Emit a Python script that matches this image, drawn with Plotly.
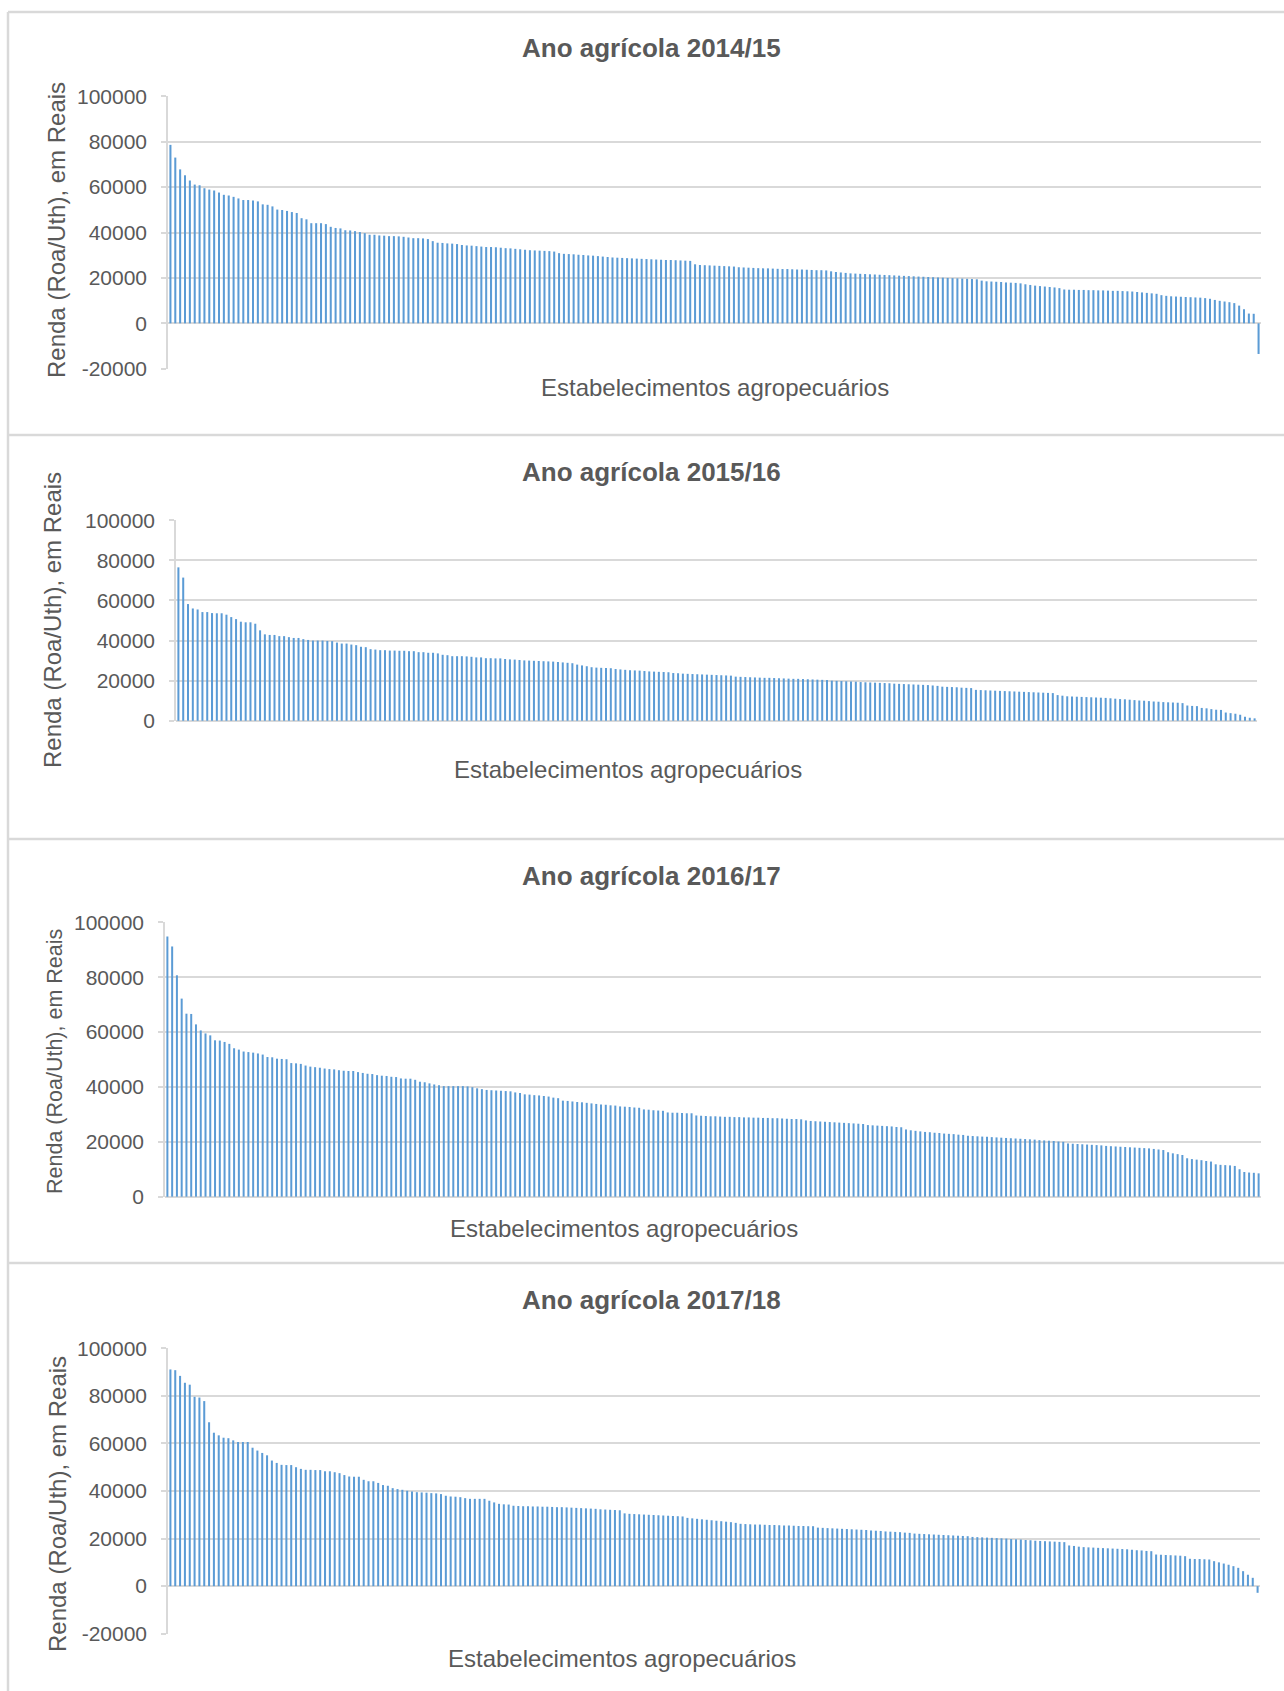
import plotly.graph_objects as go

W, H = 1284, 1691

titles = ["Ano agrícola 2014/15", "Ano agrícola 2015/16", "Ano agrícola 2016/17", "Ano agrícola 2017/18"]
y_title = "Renda (Roa/Uth), em Reais"
x_title = "Estabelecimentos agropecuários"

renda_2014_15 = [
    78600, 73000, 67800, 65200, 62900, 61100, 60800, 59500, 58900, 58500, 57600, 56600, 56300, 55700, 55000,
    54300, 54300, 54100, 53700, 52400, 52200, 51500, 50100, 49900, 49500, 49000, 48600, 46300, 45800, 44100,
    44100, 44100, 43700, 42500, 42000, 41800, 41000, 40900, 40600, 40200, 39700, 39000, 39000, 38700, 38600,
    38400, 38400, 38300, 38100, 37800, 37500, 37500, 37400, 37100, 36200, 35500, 35400, 35200, 35100, 34900,
    34500, 34300, 34200, 34000, 33800, 33600, 33600, 33500,
    33300, 33100, 33000, 32800, 32600, 32400, 32200, 32100, 32000, 31900, 31800, 31600, 30900, 30600, 30500,
    30400, 30200, 30100, 29900, 29800, 29600, 29400, 29200, 29000, 28900, 28800, 28700, 28600, 28500, 28400,
    28300, 28200, 28100, 28000, 27900, 27900, 27800, 27700, 27600, 27500,
    26000, 25700, 25600, 25500, 25400, 25300, 25200, 25100, 25000,
    24700, 24600, 24500, 24400, 24300, 24200, 24200, 24100, 24000, 23900, 23900, 23800, 23700, 23700, 23600,
    23500, 23400, 23400, 23300,
    22900, 22600, 22400,
    22200, 22000, 21900, 21800, 21700, 21600, 21500, 21400, 21300, 21200, 21100, 21000, 20900, 20800, 20700,
    20600, 20500, 20400, 20300, 20200, 20100, 20000, 19900, 19800, 19700, 19600, 19500, 19400,
    18800, 18500, 18400, 18300, 18200, 18000, 17900, 17800, 17600,
    17200, 16900, 16600, 16400, 16200, 16000, 15800, 15500,
    14900, 14800, 14800, 14700, 14700, 14600, 14600, 14500, 14500, 14400, 14300, 14300, 14200, 14100, 14000,
    13800, 13600, 13400, 13200, 13000,
    12400, 12100, 11900, 11800, 11700, 11600, 11500, 11400, 11300, 11100, 10800,
    10300, 9900, 9600, 9300, 8900,
    7800, 6200, 4300, 4200, -13500,
]

renda_2015_16 = [
    76500, 71400, 58200, 56000, 55500, 54200, 54200, 53700, 53600, 53600, 52900, 51700, 50700, 49400, 49100,
    49100, 48400, 45100, 43100, 42800, 42800, 42200, 42200, 41700, 41300, 41300, 40700, 40300, 40000, 40000,
    40000, 39800, 39700, 39000, 38500, 38500, 38000, 37700, 36900, 36700, 35700, 35500, 35200, 35200, 35000,
    35000, 34900, 34900, 34700, 34700, 34200, 34200, 33900, 33900, 33600, 32900, 32700, 32200, 32200, 32200,
    32100, 31900, 31600, 31600, 31200, 31200, 31100, 31100,
    30800, 30600, 30500, 30300, 30100, 30000, 29900, 29800, 29700, 29600, 29500, 29300, 29100, 28900, 28700,
    28000, 27600, 27200, 26700, 26500, 26400, 26300, 26200, 25800, 25600, 25400, 25200, 25100, 25000,
    24800, 24600, 24500, 24400, 24300, 24200,
    23800, 23700, 23500, 23400, 23300, 23200, 23100, 23000, 22900, 22800, 22700, 22600, 22500,
    22000, 21900, 21800, 21700, 21600, 21500, 21400, 21400, 21300, 21200, 21100, 21000, 20900, 20900, 20800,
    20700, 20600, 20500, 20400, 20300,
    20000, 19900, 19800, 19700, 19600, 19500, 19300, 19200, 19100, 19000, 18900, 18800, 18700, 18500, 18400,
    18300, 18200, 18100, 18000, 17900, 17800, 17600, 17400,
    17000, 16900, 16800, 16700, 16500, 16400, 16300,
    15400, 15300, 15200, 15100, 15000, 14900, 14800, 14700, 14600, 14500, 14400, 14300, 14200, 14100, 14000,
    13900, 13800,
    12800, 12500,
    12200, 12100, 12000, 11900, 11800, 11700, 11600, 11500, 11400, 11200, 11000, 10800, 10700, 10500, 10300,
    10100, 10000, 9800, 9600, 9500, 9300, 9200, 9100, 9000, 8800,
    7600, 7400, 7300, 6400,
    6200, 5800, 5500, 5400,
    4100, 3800, 3500, 3000,
    2000, 1500, 1200,
]

renda_2016_17 = [
    94800, 91200, 80700, 72200, 66700, 66600, 62800, 60600, 59500, 58800, 57000, 56900, 56400, 55700, 54100,
    53600, 52900, 52700, 52500, 52200, 51800, 50900, 50800, 50300, 50200, 50100, 48700, 48600, 48400, 47800,
    47400, 47200, 47000, 46700, 46500, 46400, 46100, 45900, 45800, 45800, 45400, 45100, 44800, 44700, 44300,
    44100, 44000, 43700, 43600, 43100, 43000, 43000, 42600, 41900, 41700, 41300, 40900, 40600, 40300, 40300,
    40300, 40300, 40300, 40200, 39900, 39500, 39200,
    38900, 38800, 38700, 38600, 38500, 38400, 38000, 37800, 37300, 37200, 37000, 36900, 36700, 36500, 36100,
    35900, 35000, 34900, 34700, 34500, 34400, 34200, 34000, 33800, 33600, 33500, 33300, 33200, 32900, 32800,
    32700, 32500, 32400,
    31800, 31700, 31500, 31400, 31300,
    30700, 30600, 30600, 30500, 30400, 30400,
    29600, 29500, 29400, 29300, 29300, 29200, 29100, 29100, 29000, 29000, 28900, 28900, 28800, 28800, 28700,
    28700, 28600, 28600, 28500, 28400, 28300, 28300, 28200,
    27800, 27600, 27500, 27400, 27300, 27200, 27100, 27000, 26900, 26800, 26700, 26600, 26500,
    26100, 26000, 25900, 25800, 25700, 25600, 25400, 25300,
    24500, 24200, 24000, 23800, 23600, 23500, 23300, 23200, 23000, 22900, 22800, 22600, 22500,
    22200, 22100, 22000, 21900, 21800, 21700, 21600, 21500, 21400, 21300, 21200, 21100, 21000, 20900, 20800,
    20600, 20500, 20400, 20300, 20100, 20000,
    19400, 19300, 19200, 19100, 19000, 18900, 18800, 18700, 18500, 18400, 18300, 18200, 18100, 18000, 17900,
    17800, 17700, 17600, 17400, 17200, 17000,
    16200, 15800, 15500, 15200,
    14000, 13700, 13500, 13300, 13000, 12800,
    11800, 11600, 11500, 11400, 11200,
    10000, 9000, 8800, 8700, 8500,
]

renda_2017_18 = [
    91100, 90800, 88400, 85500, 84700, 79600, 79300, 77800, 68900, 64500, 63400, 62400, 62200, 61300, 60600,
    60600, 60600, 58200, 57000, 56000, 55000, 52800, 51800, 51000, 50900, 50900, 50000, 49300, 48900, 48900,
    48800, 48800, 48300, 48300, 47900, 47500, 46700, 46100, 46000, 46000, 44700, 44100, 44100, 43400, 42500,
    42200, 41200, 40800, 40500, 40100, 39800, 39500, 39400, 39300, 39100, 39000, 38700, 38000, 37700, 37600,
    37400, 37000, 36700, 36700, 36700, 36700, 35900,
    35200, 34600, 34400, 34300, 33800, 33700, 33600, 33600, 33500, 33500, 33400, 33400, 33300, 33200, 33200,
    33100, 33000, 32900, 32800, 32700, 32600, 32500, 32300, 32200, 32100, 32000, 31900, 30600, 30400, 30300,
    30200,
    30100, 30000, 29900, 29800, 29700, 29600, 29500, 29400, 29300,
    28700, 28500, 28300, 28100, 27900, 27700, 27500, 27300, 27100, 26900, 26600,
    26200, 26100, 26000, 25900, 25900, 25800, 25700, 25700, 25600, 25500, 25500, 25400, 25300, 25300, 25200,
    25200,
    24600, 24500, 24400, 24300, 24200, 24100, 24000, 23900, 23800, 23700, 23600, 23400, 23300, 23200, 23000,
    22900, 22800, 22700, 22500, 22400,
    22100, 22000, 21900, 21800, 21700, 21600, 21500, 21400, 21300, 21200, 21100, 21000,
    20700, 20600, 20500, 20400, 20300, 20200, 20100, 20000, 19800, 19700, 19600, 19400, 19300, 19100, 19000,
    18900, 18800, 18700, 18600, 18500,
    17100, 16900, 16600, 16400, 16300, 16200, 16100, 16000, 15900, 15800, 15700, 15600, 15500, 15300, 15100,
    15000, 14800, 14700,
    13300, 13200, 13100, 13000, 12900, 12800, 12600,
    11500, 11400, 11400, 11300, 11200,
    10500, 10000, 9500, 9000, 8400, 7700,
    6300, 4800, 3500,
    -2800,
]

ticks_neg = [-20000, 0, 20000, 40000, 60000, 80000, 100000]
ticks_pos = [0, 20000, 40000, 60000, 80000, 100000]
ticktext_neg = ["-20000", "0", "20000", "40000", "60000", "80000", "100000"]
ticktext_pos = ["0", "20000", "40000", "60000", "80000", "100000"]

series = [renda_2014_15, renda_2015_16, renda_2016_17, renda_2017_18]

# layout geometry (pixels)
panels = [
    dict(x0=168, x1=1261, ytop=96, ybot=369, yr=[-20000, 100000], neg=True,
         title_y=48, ytit_x=57, ytit_y=230, ytit_size=24, xtit_x=715, xtit_y=388),
    dict(x0=176, x1=1257, ytop=520, ybot=721, yr=[0, 100000], neg=False,
         title_y=472, ytit_x=53, ytit_y=620, ytit_size=24, xtit_x=628, xtit_y=769),
    dict(x0=165, x1=1261, ytop=922, ybot=1197, yr=[0, 100000], neg=False,
         title_y=876, ytit_x=55, ytit_y=1062, ytit_size=21.5, xtit_x=624, xtit_y=1228),
    dict(x0=168, x1=1260, ytop=1348, ybot=1634, yr=[-20000, 100000], neg=True,
         title_y=1300, ytit_x=57, ytit_y=1504, ytit_size=24, xtit_x=622, xtit_y=1658),
]

FONT = "Liberation Sans, Arial, sans-serif"
TXT = "#595959"
GRID = "#D9D9D9"
BAR = "#5B9BD5"

fig = go.Figure()
layout = dict(
    width=W, height=H, margin=dict(l=0, r=0, t=0, b=0, pad=0, autoexpand=False),
    paper_bgcolor="white", plot_bgcolor="white", showlegend=False,
    bargap=0.58, font=dict(family=FONT, color=TXT),
)
annotations = []
shapes = []

for i, (vals, p) in enumerate(zip(series, panels)):
    k = "" if i == 0 else str(i + 1)
    n = len(vals)
    cats = list(range(1, n + 1))
    fig.add_trace(go.Bar(x=cats, y=vals, marker=dict(color=BAR, line=dict(width=0)),
                         xaxis="x" + k, yaxis="y" + k, hoverinfo="y"))
    pad = 120
    layout["xaxis" + k] = dict(
        domain=[p["x0"] / W, p["x1"] / W], anchor="y" + k, range=[0.5, n + 0.5],
        showticklabels=False, showgrid=False, zeroline=False, showline=False, ticks="",
        automargin=False,
    )
    layout["yaxis" + k] = dict(
        domain=[1 - p["ybot"] / H, 1 - p["ytop"] / H], anchor="x" + k,
        range=[p["yr"][0] - pad, p["yr"][1] + pad],
        tickmode="array",
        tickvals=ticks_neg if p["neg"] else ticks_pos,
        ticktext=ticktext_neg if p["neg"] else ticktext_pos,
        tickfont=dict(family=FONT, size=21, color=TXT),
        showgrid=True, gridcolor=GRID, gridwidth=1.5,
        zeroline=True, zerolinecolor=GRID, zerolinewidth=1.5,
        showline=True, linecolor=GRID, linewidth=1.5,
        ticks="outside", ticklen=5, tickcolor=GRID, tickwidth=1.5,
        ticklabelstandoff=10, automargin=False,
    )
    annotations.append(dict(
        text="<b>" + titles[i] + "</b>", x=651 / W, y=1 - p["title_y"] / H,
        xref="paper", yref="paper", showarrow=False, xanchor="center", yanchor="middle",
        font=dict(family=FONT, size=26, color=TXT),
    ))
    annotations.append(dict(
        text=y_title, x=p["ytit_x"] / W, y=1 - p["ytit_y"] / H, textangle=-90,
        xref="paper", yref="paper", showarrow=False, xanchor="center", yanchor="middle",
        font=dict(family=FONT, size=p["ytit_size"], color=TXT),
    ))
    annotations.append(dict(
        text=x_title, x=p["xtit_x"] / W, y=1 - p["xtit_y"] / H,
        xref="paper", yref="paper", showarrow=False, xanchor="center", yanchor="middle",
        font=dict(family=FONT, size=24, color=TXT),
    ))

# panel borders
for yb in [12, 435, 839, 1263]:
    shapes.append(dict(type="line", xref="paper", yref="paper", x0=8 / W, x1=1.0,
                       y0=1 - yb / H, y1=1 - yb / H, line=dict(color=GRID, width=2.5)))
shapes.append(dict(type="line", xref="paper", yref="paper", x0=8 / W, x1=8 / W,
                   y0=0, y1=1 - 12 / H, line=dict(color=GRID, width=2.5)))

layout["annotations"] = annotations
layout["shapes"] = shapes
fig.update_layout(**layout)

post = (
    "var d=document.getElementById('{plot_id}');"
    "d.style.position='absolute';d.style.top='0px';d.style.left='0px';"
    "document.documentElement.style.margin='0';document.documentElement.style.padding='0';"
    "document.body.style.margin='0';document.body.style.padding='0';"
    "document.body.style.height='1691px';document.body.style.overflow='hidden';"
    "document.documentElement.style.overflow='hidden';"
)
fig.write_html("out.html", post_script=post, config={"displayModeBar": False})
